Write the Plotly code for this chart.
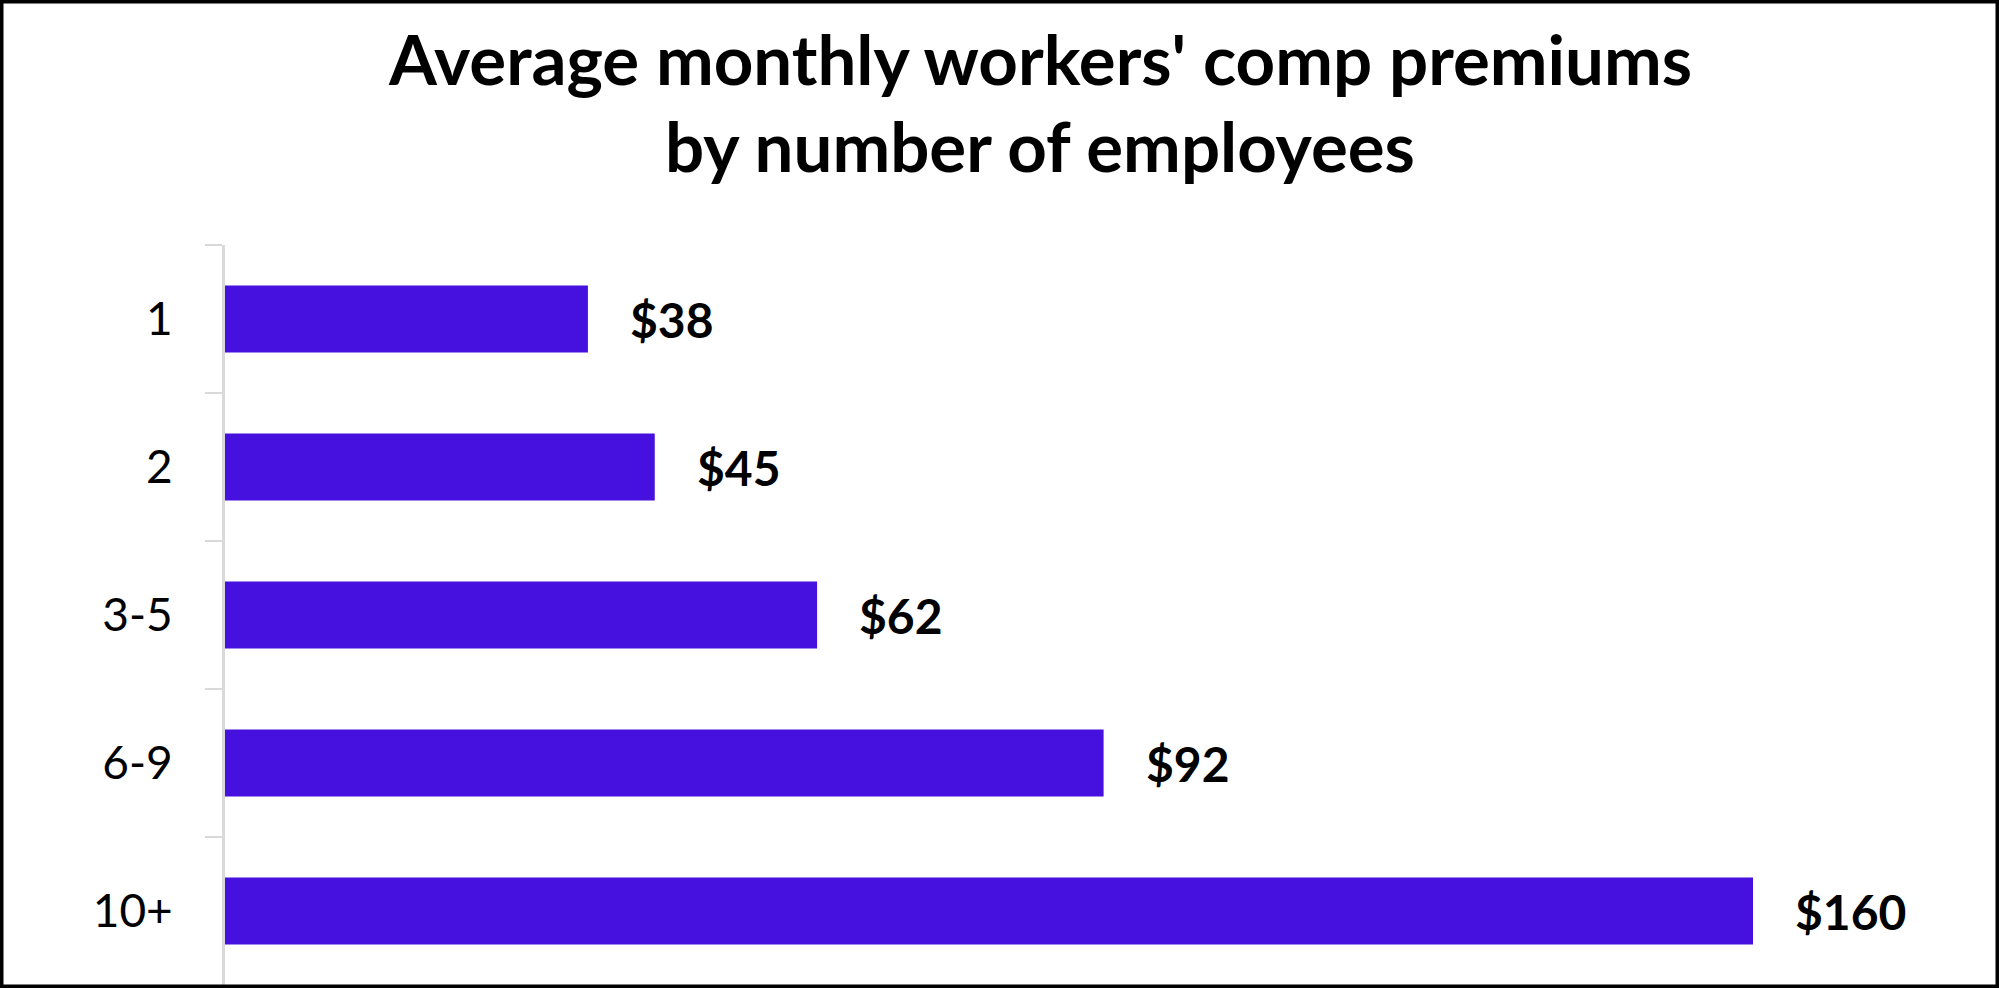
import plotly.graph_objects as go

# data
employees = ["1", "2", "3-5", "6-9", "10+"]
premiums = [38, 45, 62, 92, 160]
title_lines = ["Average monthly workers' comp premiums", "by number of employees"]

W, H = 1999, 988
left, right, top, bottom = 225, 39, 245, 3
plot_w = W - left - right
plot_h = H - top - bottom


def py(pix):
    # pixel row from the top of the figure -> paper y
    return (H - bottom - pix) / plot_h


def px(pix):
    return (pix - left) / plot_w


fig = go.Figure()

fig.add_trace(go.Bar(
    x=premiums,
    y=employees,
    orientation="h",
    marker=dict(color="#4610DE", line=dict(width=0)),
    width=0.453,
    hoverinfo="skip",
))

# value labels sit a fixed distance to the right of each bar
# (y given as index: "1" and "2" would otherwise be read as positions)
for i, val in enumerate(premiums):
    fig.add_annotation(
        x=val, y=i, text=f"${val}",
        xanchor="left", yanchor="middle", xshift=40,
        showarrow=False,
        font=dict(family="Lato", size=48, color="black", weight="bold"),
    )

# two-line title
for line, centre in zip(title_lines, [58, 146]):
    fig.add_annotation(
        text=line, xref="paper", yref="paper",
        x=px(1040), y=py(centre), xanchor="center", yanchor="middle",
        showarrow=False,
        font=dict(family="Lato", size=69, color="black", weight="bold"),
    )

# black frame round the whole picture
fig.add_shape(
    type="rect", xref="paper", yref="paper",
    x0=px(1.5), x1=px(W - 1.5),
    y0=py(H - 1.5), y1=py(1.5),
    line=dict(color="black", width=4),
)

fig.update_layout(
    width=W, height=H,
    margin=dict(l=left, r=right, t=top, b=bottom, autoexpand=False),
    paper_bgcolor="white", plot_bgcolor="white",
    showlegend=False,
    xaxis=dict(range=[0, plot_w / 9.55], visible=False),
    yaxis=dict(
        autorange="reversed",
        showline=True, linecolor="#d9d9d9", linewidth=3,
        ticks="outside", tickson="boundaries", ticklen=17, tickwidth=2,
        tickcolor="#d9d9d9", ticklabelstandoff=40,
        showgrid=False, zeroline=False,
        tickfont=dict(family="Lato", size=46, color="black"),
    ),
)

fig.write_html("out.html", config={"displayModeBar": False},
               post_script="document.body.style.margin='0';")
